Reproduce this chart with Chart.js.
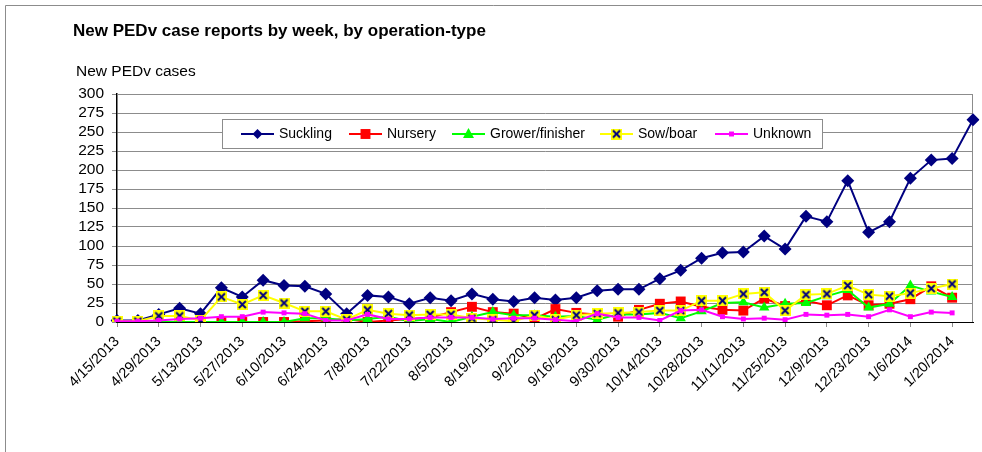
<!DOCTYPE html>
<html>
<head>
<meta charset="utf-8">
<script src="https://cdn.jsdelivr.net/npm/chart.js@4.4.1/dist/chart.umd.min.js"></script>
<style>
  html, body { margin: 0; padding: 0; background: #fff; }
  canvas { display: block; }
</style>
</head>
<body>
<canvas id="pedChart" width="982" height="452"></canvas>
<script>
// weekly report dates (every week, labelled every 2nd)
const weeks = [
  '4/15/2013', '4/22/2013', '4/29/2013', '5/6/2013', '5/13/2013', '5/20/2013', '5/27/2013',
  '6/3/2013', '6/10/2013', '6/17/2013', '6/24/2013', '7/1/2013', '7/8/2013', '7/15/2013',
  '7/22/2013', '7/29/2013', '8/5/2013', '8/12/2013', '8/19/2013', '8/26/2013', '9/2/2013',
  '9/9/2013', '9/16/2013', '9/23/2013', '9/30/2013', '10/7/2013', '10/14/2013', '10/21/2013',
  '10/28/2013', '11/4/2013', '11/11/2013', '11/18/2013', '11/25/2013', '12/2/2013', '12/9/2013',
  '12/16/2013', '12/23/2013', '12/30/2013', '1/6/2014', '1/13/2014', '1/20/2014', '1/27/2014'
];

const suckling = [2, 2, 10, 18, 11, 45, 33, 55, 48, 47, 37, 11, 35, 33, 24, 32, 28, 37, 30, 27, 32,
  29, 32, 41, 43, 43, 57, 68, 84, 91, 92, 113, 96, 139, 132, 186, 118, 132, 189, 213, 215, 266];
const nursery = [0, 0, 0, 0, 0, 0, 0, 0, 0, 1, 2, 4, 0, 2, 4, 6, 13, 20, 13, 11, 4,
  17, 12, 10, 7, 16, 24, 27, 20, 16, 15, 31, 21, 28, 22, 35, 22, 24, 30, 47, 32];
const growerFinisher = [0, 0, 0, 0, 0, 0, 0, 0, 0, 5, 5, 2, 4, 7, 1, 4, 0, 7, 13, 9, 9,
  7, 8, 3, 10, 10, 12, 5, 14, 25, 26, 19, 24, 25, 34, 42, 19, 24, 48, 40, 33];
const sowBoar = [1, 1, 8, 8, 2, 33, 23, 35, 25, 14, 14, 3, 16, 11, 9, 10, 10, 5, 3, 1, 9,
  3, 9, 11, 12, 13, 15, 15, 28, 28, 37, 39, 15, 36, 37, 48, 36, 34, 38, 44, 50];
const unknown = [1, 1, 2, 4, 5, 7, 7, 13, 12, 11, 2, 2, 10, 4, 4, 6, 6, 6, 4, 5, 5,
  3, 1, 11, 6, 6, 2, 15, 16, 7, 4, 5, 3, 10, 9, 10, 7, 16, 7, 13, 12];

const yTicks = [0, 25, 50, 75, 100, 125, 150, 175, 200, 225, 250, 275, 300];

const NAVY = '#000080';

// yellow square with a navy X, like the excel marker
function makeXMarker() {
  const c = document.createElement('canvas');
  c.width = 11; c.height = 11;
  const g = c.getContext('2d');
  g.fillStyle = '#ffff00';
  g.fillRect(0, 0, 11, 11);
  g.strokeStyle = NAVY;
  g.lineWidth = 2;
  g.beginPath();
  g.moveTo(2, 2); g.lineTo(9, 9);
  g.moveTo(9, 2); g.lineTo(2, 9);
  g.stroke();
  return c;
}
const xMarker = makeXMarker();

const series = [
  { label: 'Suckling', data: suckling, color: NAVY, style: 'rectRot', radius: 6.5, fill: NAVY, legendX: 241 },
  { label: 'Nursery', data: nursery, color: '#ff0000', style: 'rect', radius: 7, fill: '#ff0000', legendX: 349 },
  { label: 'Grower/finisher', data: growerFinisher, color: '#00ff00', style: 'triangle', radius: 6, fill: '#00ff00', legendX: 452 },
  { label: 'Sow/boar', data: sowBoar, color: '#ffff00', style: xMarker, radius: 6, fill: '#ffff00', legendX: 600 },
  { label: 'Unknown', data: unknown, color: '#ff00ff', style: 'rect', radius: 3.5, fill: '#ff00ff', legendX: 715 },
];

const FONT = 'Arial, "Liberation Sans", sans-serif';

function legendMarker(ctx, s, x, y) {
  ctx.save();
  ctx.fillStyle = s.fill;
  if (s.style === 'rectRot') {
    ctx.beginPath();
    ctx.moveTo(x, y - 5); ctx.lineTo(x + 5, y); ctx.lineTo(x, y + 5); ctx.lineTo(x - 5, y);
    ctx.closePath(); ctx.fill();
  } else if (s.style === 'rect') {
    const h = s.radius * Math.SQRT1_2;
    ctx.fillRect(x - h, y - h, 2 * h, 2 * h);
  } else if (s.style === 'triangle') {
    ctx.beginPath();
    ctx.moveTo(x, y - 6); ctx.lineTo(x + 5.5, y + 4); ctx.lineTo(x - 5.5, y + 4);
    ctx.closePath(); ctx.fill();
  } else {
    ctx.drawImage(s.style, x - 5.5, y - 5.5);
  }
  ctx.restore();
}

const decor = {
  id: 'decor',
  beforeDraw(chart) {
    const ctx = chart.ctx;
    ctx.save();
    ctx.fillStyle = '#fff';
    ctx.fillRect(0, 0, chart.width, chart.height);
    // outer frame
    ctx.strokeStyle = '#8c8c8c';
    ctx.lineWidth = 1;
    ctx.beginPath();
    ctx.moveTo(5.5, chart.height); ctx.lineTo(5.5, 5.5); ctx.lineTo(chart.width, 5.5);
    ctx.stroke();
    ctx.restore();
  },
  beforeDatasetsDraw(chart) {
    const a = chart.chartArea, ctx = chart.ctx;
    ctx.save();
    ctx.strokeStyle = '#8c8c8c';
    ctx.lineWidth = 1;
    ctx.beginPath();
    ctx.moveTo(a.left, a.top + 0.5); ctx.lineTo(a.right - 0.5, a.top + 0.5); ctx.lineTo(a.right - 0.5, a.bottom);
    ctx.stroke();
    ctx.restore();
  },
  afterDraw(chart) {
    const ctx = chart.ctx;
    ctx.save();
    ctx.fillStyle = '#000';
    ctx.textBaseline = 'middle';
    ctx.font = 'bold 17px ' + FONT;
    ctx.fillText('New PEDv case reports by week, by operation-type', 73, 31);
    ctx.font = '15.5px ' + FONT;
    ctx.fillText('New PEDv cases', 76, 72);

    // legend box
    ctx.fillStyle = '#fff';
    ctx.fillRect(222, 119, 600, 29);
    ctx.strokeStyle = '#8c8c8c';
    ctx.strokeRect(222.5, 119.5, 600, 29);
    ctx.font = '14px ' + FONT;
    const ly = 134;
    series.forEach(s => {
      ctx.strokeStyle = s.color;
      ctx.lineWidth = 2;
      ctx.beginPath();
      ctx.moveTo(s.legendX, ly); ctx.lineTo(s.legendX + 33, ly);
      ctx.stroke();
      legendMarker(ctx, s, s.legendX + 16.5, ly);
      ctx.fillStyle = '#000';
      ctx.fillText(s.label, s.legendX + 38, ly);
    });
    ctx.restore();
  }
};

new Chart(document.getElementById('pedChart'), {
  type: 'line',
  data: {
    labels: weeks,
    datasets: series.map((s, i) => ({
      label: s.label,
      data: s.data,
      borderColor: s.color,
      backgroundColor: s.fill,
      borderWidth: 2,
      pointStyle: s.style,
      pointRadius: s.radius,
      pointBorderWidth: 0,
      pointBackgroundColor: s.fill,
      tension: 0,
      order: series.length - i,
    })),
  },
  options: {
    responsive: false,
    animation: false,
    devicePixelRatio: 1,
    layout: { padding: { left: 0, right: 9, top: 94, bottom: 0 } },
    plugins: {
      legend: { display: false },
      tooltip: { enabled: false },
    },
    scales: {
      x: {
        offset: false,
        grid: { drawOnChartArea: false, color: '#8c8c8c', tickLength: 5 },
        border: { color: '#000', width: 1 },
        ticks: {
          autoSkip: false,
          maxRotation: 45,
          minRotation: 45,
          padding: 6,
          color: '#000',
          font: { family: FONT, size: 14.5 },
          callback: (v, i) => (i % 2 === 0 ? weeks[i] : null),
        },
        afterFit: scale => { scale.height = 130; },
      },
      y: {
        min: 0,
        max: 300,
        afterBuildTicks: scale => { scale.ticks = yTicks.map(v => ({ value: v })); },
        grid: { color: '#8c8c8c', tickLength: 5 },
        border: { color: '#000', width: 1.5 },
        ticks: {
          autoSkip: false,
          padding: 8,
          color: '#000',
          font: { family: FONT, size: 15.5 },
        },
        afterFit: scale => { scale.width = 117; },
      },
    },
  },
  plugins: [decor],
});
</script>
</body>
</html>
